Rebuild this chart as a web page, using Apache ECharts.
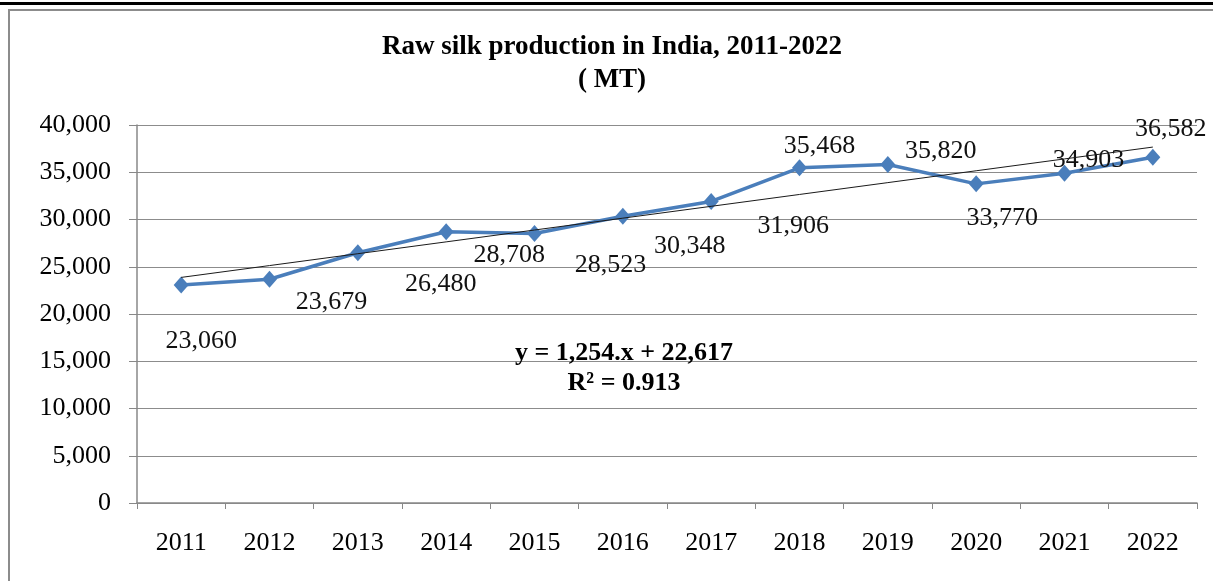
<!DOCTYPE html>
<html>
<head>
<meta charset="utf-8">
<title>Raw silk production in India, 2011-2022</title>
<script src="https://cdn.jsdelivr.net/npm/echarts@6/dist/echarts.min.js"></script>
<style>
  html, body { margin: 0; padding: 0; background: #ffffff; }
  #chart { width: 1213px; height: 581px; }
</style>
</head>
<body>
<div id="chart"></div>
<script>
// Raw silk production (MT) by year
const years = ['2011', '2012', '2013', '2014', '2015', '2016', '2017', '2018', '2019', '2020', '2021', '2022'];
const production = [23060, 23679, 26480, 28708, 28523, 30348, 31906, 35468, 35820, 33770, 34903, 36582];

// Linear trend as printed on the chart: y = 1,254x + 22,617 (x = 1 for 2011)
const trendSlope = 1254;
const trendIntercept = 22617;
const trendR2 = 0.913;

// Y axis ticks
const yMin = 0;
const yMax = 40000;
const yStep = 5000;

// Where each value label sits relative to its marker, in pixels [dx, dy]
const labelOffsets = [
  [20, 56], [62, 23], [83, 31], [63, 23], [76, 32], [67, 30],
  [82, 25], [20, -22], [53, -13], [26, 34], [24, -13], [18, -28]
];

const titleLines = ['Raw silk production in India, 2011-2022', '( MT)'];

const serif = '"Liberation Serif", "Times New Roman", Times, serif';
const fmt = v => v.toLocaleString('en-US');

const trendValues = years.map((_, i) => trendSlope * (i + 1) + trendIntercept);

const productionData = production.map((v, i) => ({
  value: v,
  label: { offset: labelOffsets[i] }
}));

const chart = echarts.init(document.getElementById('chart'), null, { renderer: 'canvas' });

chart.setOption({
  animation: false,
  backgroundColor: '#ffffff',
  title: {
    text: titleLines.join('\n'),
    // centred over the framed area, a little right of the canvas middle
    left: 612,
    top: 31,
    padding: 0,
    textAlign: 'center',
    textStyle: {
      fontFamily: serif,
      fontWeight: 'bold',
      fontSize: 27,
      lineHeight: 33,
      color: '#000000'
    }
  },
  grid: {
    left: 137,
    right: 16,
    top: 125,
    bottom: 78,
    containLabel: false
  },
  xAxis: {
    type: 'category',
    data: years,
    boundaryGap: true,
    axisLine: { show: true, lineStyle: { color: '#888888', width: 1.5 } },
    axisTick: { show: true, length: 6, lineStyle: { color: '#888888' } },
    axisLabel: {
      margin: 27,
      fontFamily: serif,
      fontSize: 26,
      color: '#000000'
    },
    splitLine: { show: false }
  },
  yAxis: {
    type: 'value',
    min: yMin,
    max: yMax,
    interval: yStep,
    axisLine: { show: true, lineStyle: { color: '#888888', width: 1.5 } },
    axisTick: { show: true, inside: false, length: 8, lineStyle: { color: '#888888' } },
    axisLabel: {
      margin: 26,
      fontFamily: serif,
      fontSize: 26,
      color: '#000000',
      formatter: v => fmt(v)
    },
    splitLine: { show: true, lineStyle: { color: '#8c8c8c', width: 1 } }
  },
  series: [
    {
      name: 'Raw silk production',
      type: 'line',
      data: productionData,
      symbol: 'diamond',
      symbolSize: [15, 17],
      lineStyle: { color: '#4a7ebb', width: 3.5 },
      itemStyle: { color: '#4a7ebb' },
      label: {
        show: true,
        position: 'inside',
        fontFamily: serif,
        fontSize: 26,
        color: '#111111',
        formatter: p => fmt(p.value)
      },
      z: 3
    },
    {
      name: 'Linear trend',
      type: 'line',
      data: trendValues,
      symbol: 'none',
      lineStyle: { color: '#1a1a1a', width: 1 },
      silent: true,
      z: 4
    }
  ],
  graphic: [
    {
      type: 'rect',
      left: 0, top: 2,
      shape: { width: 1213, height: 3 },
      style: { fill: '#000000' },
      silent: true
    },
    {
      type: 'rect',
      shape: { x: 9, y: 10, width: 1215, height: 580 },
      style: { fill: 'none', stroke: '#8c8c8c', lineWidth: 2 },
      silent: true
    },
    {
      type: 'text',
      x: 624, y: 353,
      style: {
        text: 'y = ' + fmt(trendSlope) + '.x + ' + fmt(trendIntercept),
        align: 'center',
        verticalAlign: 'middle',
        font: 'bold 26px ' + serif,
        fill: '#000000'
      },
      z: 10
    },
    {
      type: 'text',
      x: 624, y: 383,
      style: {
        text: 'R² = ' + trendR2.toFixed(3),
        align: 'center',
        verticalAlign: 'middle',
        font: 'bold 26px ' + serif,
        fill: '#000000'
      },
      z: 10
    }
  ]
});
</script>
</body>
</html>
